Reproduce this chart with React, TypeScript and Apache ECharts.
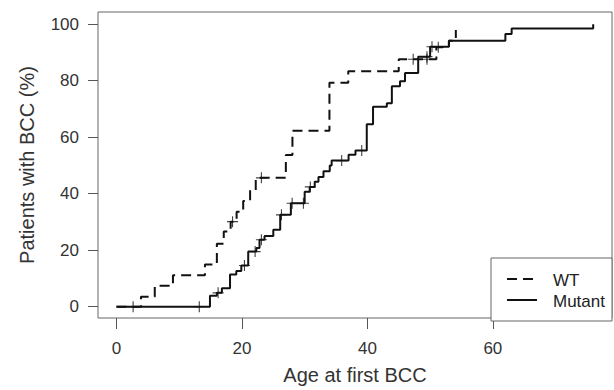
import React, { useEffect, useRef } from "react";
import * as echarts from "echarts";

// Kaplan–Meier style cumulative incidence
const seriesNames = ["WT", "Mutant"];

const wtTimes = [0, 3.9, 6.1, 9.0, 14.1, 16.0, 17.1, 18.2, 19.15, 20.2, 21.3, 22.2, 27.0, 28.05, 33.95, 36.95, 45.0, 51.0, 53.0, 54.1];
const wtPct = [0, 3.5, 7.4, 11.1, 14.9, 22.3, 26.6, 30.1, 33.6, 37.4, 41.2, 45.6, 53.7, 62.3, 79.3, 83.3, 87.6, 91.8, 94.1, 97.9];
const wtCensorTimes = [18.5, 23.1, 47.3, 49.5, 51.3];
const wtCensorPct = [30.1, 45.6, 87.6, 87.6, 91.8];

const mutTimes = [0, 14.9, 16.0, 16.8, 18.1, 19.1, 19.9, 21.0, 22.3, 22.8, 23.6, 25.0, 26.1, 27.8, 30.0, 30.8, 31.6, 32.2, 33.0, 34.0, 34.3, 37.0, 38.1, 39.9, 40.9, 43.1, 43.9, 45.2, 46.0, 48.1, 50.0, 53.0, 62.0, 63.0, 76.0];
const mutPct = [0, 3.9, 4.9, 6.5, 11.4, 12.6, 14.6, 19.5, 20.8, 23.7, 25.0, 27.2, 32.5, 36.6, 40.7, 42.4, 44.2, 45.9, 47.9, 50.0, 51.7, 53.8, 55.3, 64.6, 70.8, 72.0, 78.0, 79.8, 82.7, 88.5, 92.0, 94.1, 96.5, 98.5, 100];
const mutCensorTimes = [2.65, 13.2, 16.2, 20.4, 22.1, 23.1, 26.3, 28.0, 29.8, 30.9, 35.9, 39.1, 49.5, 50.3];
const mutCensorPct = [0, 0, 4.9, 14.6, 19.5, 23.7, 32.5, 36.6, 36.6, 42.4, 51.7, 55.3, 88.5, 92.0];

const xTicks = [0, 20, 40, 60];
const yTicks = [0, 20, 40, 60, 80, 100];

const FONT = "'Liberation Sans', Arial, Helvetica, sans-serif";
const INK = "#111";
const CROSS = "path://M4.5 0H5.5V4.5H10V5.5H5.5V10H4.5V5.5H0V4.5H4.5Z";

const zip = (a: number[], b: number[]) => a.map((v, i) => [v, b[i]]);

export default function App() {
  const ref = useRef<HTMLDivElement>(null);

  useEffect(() => {
    if (!ref.current) return;
    const chart = echarts.init(ref.current, null, { renderer: "svg" });
    chart.setOption({
      animation: false,
      backgroundColor: "#fff",
      grid: {
        left: 98,
        right: 2,
        top: 12,
        bottom: 69,
        show: true,
        borderColor: "#666",
        borderWidth: 1,
        backgroundColor: "transparent",
      },
      xAxis: {
        type: "value",
        min: -2.95,
        max: 79,
        splitLine: { show: false },
        axisLine: { show: false, onZero: false },
        axisTick: { show: true, customValues: xTicks, length: 11, lineStyle: { color: "#555", width: 1 } },
        axisLabel: { customValues: xTicks, fontSize: 17, color: "#333", margin: 22, fontFamily: FONT },
        name: "Age at first BCC",
        nameLocation: "middle",
        nameGap: 47,
        nameTextStyle: { fontSize: 20, color: "#333", fontFamily: FONT },
      },
      yAxis: {
        type: "value",
        min: -4,
        max: 104.3,
        splitLine: { show: false },
        axisLine: { show: false, onZero: false },
        axisTick: { show: true, customValues: yTicks, length: 10, lineStyle: { color: "#555", width: 1 } },
        axisLabel: { customValues: yTicks, fontSize: 17, color: "#333", margin: 19, fontFamily: FONT },
        name: "Patients with BCC (%)",
        nameLocation: "middle",
        nameGap: 61,
        nameTextStyle: { fontSize: 20, color: "#333", fontFamily: FONT },
      },
      series: [
        {
          name: seriesNames[0],
          type: "line",
          step: "end",
          showSymbol: false,
          symbol: "none",
          data: zip(wtTimes, wtPct),
          lineStyle: { color: INK, width: 2, type: [10, 6] },
          z: 3,
        },
        {
          name: seriesNames[1],
          type: "line",
          step: "end",
          showSymbol: false,
          symbol: "none",
          data: zip(mutTimes, mutPct),
          lineStyle: { color: INK, width: 2, type: "solid" },
          z: 3,
        },
        {
          name: seriesNames[0] + " censored",
          type: "scatter",
          symbol: CROSS,
          symbolSize: 11,
          itemStyle: { color: INK },
          data: zip(wtCensorTimes, wtCensorPct),
          z: 4,
        },
        {
          name: seriesNames[1] + " censored",
          type: "scatter",
          symbol: CROSS,
          symbolSize: 11,
          itemStyle: { color: INK },
          data: zip(mutCensorTimes, mutCensorPct),
          z: 4,
        },
      ],
      graphic: [
        {
          type: "rect",
          shape: { x: 491, y: 258, width: 121, height: 63 },
          style: { fill: "#fff", stroke: "#666", lineWidth: 1 },
          z: 10,
        },
        {
          type: "line",
          shape: { x1: 507, y1: 279, x2: 537, y2: 279 },
          style: { stroke: INK, lineWidth: 2, lineDash: [10, 6] },
          z: 11,
        },
        {
          type: "line",
          shape: { x1: 507, y1: 300, x2: 537, y2: 300 },
          style: { stroke: INK, lineWidth: 2 },
          z: 11,
        },
        {
          type: "text",
          x: 553,
          y: 280,
          style: { text: seriesNames[0], fontSize: 17, fill: "#222", verticalAlign: "middle", fontFamily: FONT },
          z: 11,
        },
        {
          type: "text",
          x: 553,
          y: 301,
          style: { text: seriesNames[1], fontSize: 17, fill: "#222", verticalAlign: "middle", fontFamily: FONT },
          z: 11,
        },
      ],
    });
    return () => chart.dispose();
  }, []);

  return (
    <div
      ref={ref}
      style={{ position: "fixed", left: 0, top: 0, width: 614, height: 390, background: "#fff" }}
    />
  );
}
